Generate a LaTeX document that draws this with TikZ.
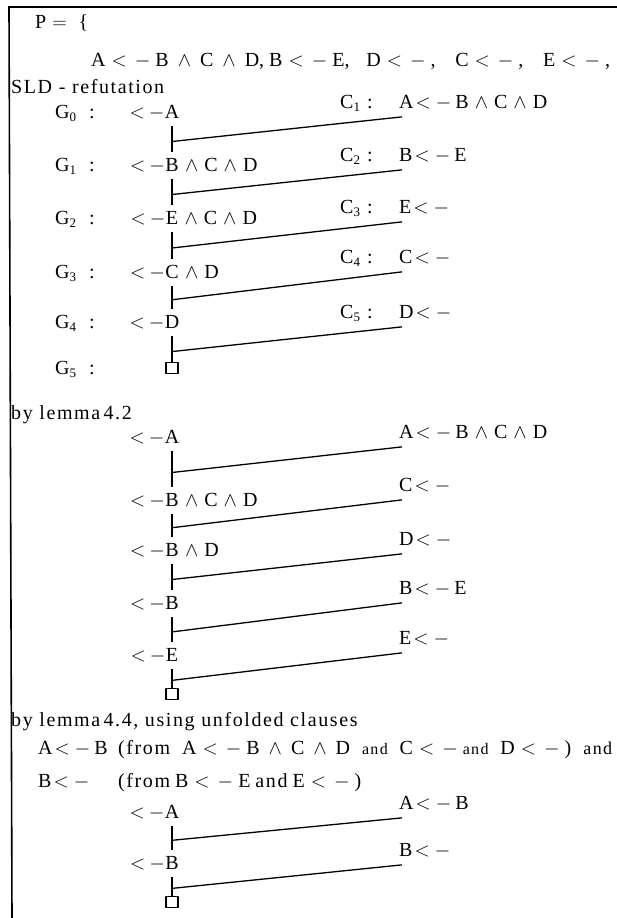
\RequirePackage{fix-cm}
\documentclass[tikz,border=0pt]{standalone}
\usepackage{fontspec}
\setmainfont{Liberation Serif}
\newfontfamily\prose[LetterSpace=8]{Liberation Serif}
\usetikzlibrary{calc}
\newcommand{\la}{\hspace{2pt}\ensuremath{<}\hspace{5pt}\ensuremath{-}\hspace{4pt}}
\newcommand{\lb}{\hspace{6pt}\ensuremath{<}\hspace{8pt}\ensuremath{-}\hspace{5pt}}
\newcommand{\gl}{\ensuremath{<}\hspace{4pt}\ensuremath{-}\hspace{11pt}}
\newcommand{\an}{\hspace{6pt}\ensuremath{\wedge}\hspace{6pt}}
\newcommand{\ab}{\hspace{9pt}\ensuremath{\wedge}\hspace{9pt}}
\newcommand{\sub}[1]{\raisebox{-0.4ex}{\fontsize{13}{13}\selectfont #1}}
\newcommand{\sand}{{\prose\fontsize{16}{16}\selectfont and}}

\begin{document}
\begin{tikzpicture}[x=1pt, y=-1pt,
  txt/.style={anchor=base west, inner sep=0pt, font=\fontsize{20}{22}\selectfont},
  rtxt/.style={anchor=base east, inner sep=0pt, font=\fontsize{20}{22}\selectfont},
  head/.style={anchor=base, inner sep=0pt, font=\fontsize{20}{22}\selectfont},
  words/.style={anchor=base west, inner sep=0pt, font=\prose\fontsize{20}{22}\selectfont},
  bar/.style={line width=1.6pt},
  link/.style={line width=1.3pt},
  empty/.style={draw, line width=1.4pt, minimum width=12pt, minimum height=11pt, inner sep=0pt}]
  \useasboundingbox (0,0) rectangle (617,918);
  \draw[line width=1.6pt] (617,7) -- (9,7) -- (12,918);

  \node[txt] (prog) at (35,28) {P\hspace{6pt}\ensuremath{=}\hspace{12pt}\{};
  \node[txt] (progbody) at (91,66) {\makebox[519pt][s]{A\lb B\ab C\ab D,\hspace{5pt}B\lb E, D\lb, C\lb, E\lb,}};
  \node[words] (sld) at (11,93) {SLD - refutation};

  \node[txt] at (55,118) {G\sub{0}\hspace{13pt}:};
  \node[head] (g0) at (172,118) {A};
  \node[rtxt] at (g0.base west) {\gl};
  \node[txt] at (340,108) {C\sub{1}\hspace{7pt}:};
  \node[txt] (c1) at (399,108) {A\la B\an C\an D};

  \node[txt] at (55,171) {G\sub{1}\hspace{13pt}:};
  \node[head] (g1) at (172,171) {B};
  \node[rtxt] at (g1.base west) {\gl};
  \node[txt] at (g1.base east) {\an C\an D};
  \node[txt] at (340,161) {C\sub{2}\hspace{7pt}:};
  \node[txt] (c2) at (399,161) {B\la E};

  \node[txt] at (55,224) {G\sub{2}\hspace{13pt}:};
  \node[head] (g2) at (172,224) {E};
  \node[rtxt] at (g2.base west) {\gl};
  \node[txt] at (g2.base east) {\an C\an D};
  \node[txt] at (340,213) {C\sub{3}\hspace{7pt}:};
  \node[txt] (c3) at (399,213) {E\la};

  \node[txt] at (55,278) {G\sub{3}\hspace{13pt}:};
  \node[head] (g3) at (172,278) {C};
  \node[rtxt] at (g3.base west) {\gl};
  \node[txt] at (g3.base east) {\an D};
  \node[txt] at (340,263) {C\sub{4}\hspace{7pt}:};
  \node[txt] (c4) at (399,263) {C\la};

  \node[txt] at (55,328) {G\sub{4}\hspace{13pt}:};
  \node[head] (g4) at (172,328) {D};
  \node[rtxt] at (g4.base west) {\gl};
  \node[txt] at (340,318) {C\sub{5}\hspace{7pt}:};
  \node[txt] (c5) at (399,318) {D\la};

  \node[txt] at (55,374) {G\sub{5}\hspace{13pt}:};
  \node[empty] (g5) at (172,368) {};

  \draw[bar] ([yshift=-8pt]g0.south) -- ([yshift=6pt]g1.north);
  \draw[bar] ([yshift=-8pt]g1.south) -- ([yshift=6pt]g2.north);
  \draw[bar] ([yshift=-8pt]g2.south) -- ([yshift=6pt]g3.north);
  \draw[bar] ([yshift=-8pt]g3.south) -- ([yshift=6pt]g4.north);
  \draw[bar] ([yshift=-8pt]g4.south) -- (g5.north);
  \draw[link] ($([yshift=-8pt]g0.south)!0.6!([yshift=6pt]g1.north)$) -- ([xshift=3pt,yshift=-7pt]c1.south west);
  \draw[link] ($([yshift=-8pt]g1.south)!0.6!([yshift=6pt]g2.north)$) -- ([xshift=3pt,yshift=-7pt]c2.south west);
  \draw[link] ($([yshift=-8pt]g2.south)!0.6!([yshift=6pt]g3.north)$) -- ([xshift=3pt,yshift=-7pt]c3.south west);
  \draw[link] ($([yshift=-8pt]g3.south)!0.6!([yshift=6pt]g4.north)$) -- ([xshift=3pt,yshift=-7pt]c4.south west);
  \draw[link] ($([yshift=-8pt]g4.south)!0.6!(g5.north)$) -- ([xshift=3pt,yshift=-7pt]c5.south west);

  \node[words] (lemma42) at (11,419) {by lemma\,4.2};

  \node[head] (h0) at (172,443) {A};
  \node[rtxt] at (h0.base west) {\gl};
  \node[txt] (d1) at (399,438) {A\la B\an C\an D};

  \node[head] (h1) at (172,506) {B};
  \node[rtxt] at (h1.base west) {\gl};
  \node[txt] at (h1.base east) {\an C\an D};
  \node[txt] (d2) at (399,491) {C\la};

  \node[head] (h2) at (172,556) {B};
  \node[rtxt] at (h2.base west) {\gl};
  \node[txt] at (h2.base east) {\an D};
  \node[txt] (d3) at (399,545) {D\la};

  \node[head] (h3) at (172,609) {B};
  \node[rtxt] at (h3.base west) {\gl};
  \node[txt] (d4) at (399,594) {B\la E};

  \node[head] (h4) at (172,661) {E};
  \node[rtxt] at (h4.base west) {\gl};
  \node[txt] (d5) at (399,644) {E\la};

  \node[empty] (h5) at (172,694) {};

  \draw[bar] ([yshift=-8pt]h0.south) -- ([yshift=6pt]h1.north);
  \draw[bar] ([yshift=-8pt]h1.south) -- ([yshift=6pt]h2.north);
  \draw[bar] ([yshift=-8pt]h2.south) -- ([yshift=6pt]h3.north);
  \draw[bar] ([yshift=-8pt]h3.south) -- ([yshift=6pt]h4.north);
  \draw[bar] ([yshift=-8pt]h4.south) -- (h5.north);
  \draw[link] ($([yshift=-8pt]h0.south)!0.6!([yshift=6pt]h1.north)$) -- ([xshift=3pt,yshift=-7pt]d1.south west);
  \draw[link] ($([yshift=-8pt]h1.south)!0.6!([yshift=6pt]h2.north)$) -- ([xshift=3pt,yshift=-7pt]d2.south west);
  \draw[link] ($([yshift=-8pt]h2.south)!0.6!([yshift=6pt]h3.north)$) -- ([xshift=3pt,yshift=-7pt]d3.south west);
  \draw[link] ($([yshift=-8pt]h3.south)!0.6!([yshift=6pt]h4.north)$) -- ([xshift=3pt,yshift=-7pt]d4.south west);
  \draw[link] ($([yshift=-8pt]h4.south)!0.6!(h5.north)$) -- ([xshift=3pt,yshift=-7pt]d5.south west);

  \node[words] (lemma44) at (11,726) {by lemma\,4.4, using unfolded clauses};
  \node[txt] (unfoldA) at (38,754) {A\la B};
  \node[txt] (fromA) at (118,754) {\makebox[494pt][s]{{\prose (from} A\lb B\ab C\ab D \sand{} C\lb\sand{} D\lb) {\prose\fontsize{18}{18}\selectfont and}}};
  \node[txt] (unfoldB) at (38,787) {B\la};
  \node[txt] (fromB) at (118,787) {{\prose (from} B\lb E {\prose and} E\lb)};

  \node[head] (k0) at (172,818) {A};
  \node[rtxt] at (k0.base west) {\gl};
  \node[txt] (e1) at (399,809) {A\la B};

  \node[head] (k1) at (172,869) {B};
  \node[rtxt] at (k1.base west) {\gl};
  \node[txt] (e2) at (399,856) {B\la};

  \node[empty] (k2) at (172,902) {};

  \draw[bar] ([yshift=-8pt]k0.south) -- ([yshift=6pt]k1.north);
  \draw[bar] ([yshift=-8pt]k1.south) -- (k2.north);
  \draw[link] ($([yshift=-8pt]k0.south)!0.6!([yshift=6pt]k1.north)$) -- ([xshift=3pt,yshift=-7pt]e1.south west);
  \draw[link] ($([yshift=-8pt]k1.south)!0.6!(k2.north)$) -- ([xshift=3pt,yshift=-7pt]e2.south west);
\end{tikzpicture}
\end{document}
